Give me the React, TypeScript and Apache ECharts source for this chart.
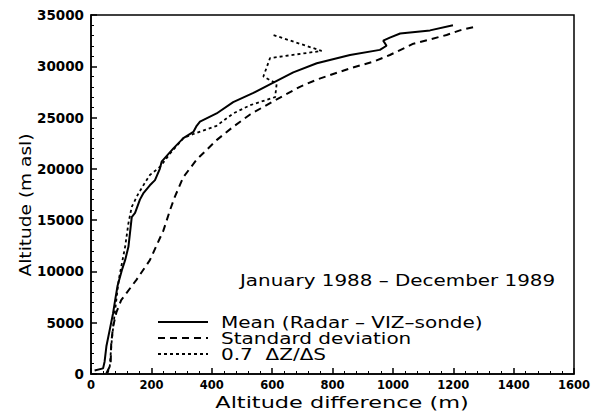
import React, { useEffect, useRef } from "react";
import * as echarts from "echarts";

const seriesNames = ["Mean (Radar – VIZ–sonde)", "Standard deviation", "0.7  ΔZ/ΔS"];

// [altitude difference (m), altitude (m asl)]
const meanCurve: number[][] = [
  [12, 350], [40, 550], [45, 1200], [51, 2700], [62, 4300], [73, 5900], [80, 7200],
  [88, 8600], [102, 10100], [113, 11100], [124, 12400], [129, 13700], [135, 15300],
  [146, 15700], [162, 17000], [173, 17600], [195, 18400], [212, 18900], [228, 20000],
  [234, 20700], [273, 22000], [306, 23000], [339, 23600], [350, 24200], [361, 24600],
  [416, 25400], [471, 26500], [538, 27400], [604, 28400], [670, 29400], [748, 30300],
  [858, 31100], [957, 31600], [979, 32000], [968, 32500], [990, 32800], [1024, 33200],
  [1123, 33500], [1199, 34000],
];

const stdCurve: number[][] = [
  [51, 70], [65, 900], [67, 3000], [73, 4600], [84, 6000], [100, 7200], [151, 9200],
  [195, 11100], [240, 14000], [262, 16000], [278, 17300], [306, 19200], [350, 20900],
  [416, 22800], [471, 24100], [527, 25300], [604, 26600], [692, 28000], [748, 28700],
  [858, 29800], [935, 30450], [990, 31100], [1068, 32200], [1178, 33050], [1222, 33500],
  [1278, 33900],
];

const gradientCurve: number[][] = [
  [55, 100], [62, 700], [68, 3000], [75, 5000], [85, 7500], [92, 9200], [113, 12400],
  [124, 14700], [135, 16300], [157, 17600], [184, 18900], [195, 19400], [229, 20200],
  [262, 21500], [306, 23000], [339, 23400], [416, 24200], [471, 25400], [527, 26200],
  [610, 27000], [615, 28300], [571, 29000], [593, 30800], [764, 31500], [604, 33050],
];

const xTicks = { min: 0, max: 1600, interval: 200 };
const yTicks = { min: 0, max: 35000, interval: 5000 };

const periodLabel = "January 1988 – December 1989";
const xTitle = "Altitude difference (m)";
const yTitle = "Altitude (m asl)";

const dashSolid: number[] | null = null;
const dashStd = [7, 5];
const dashGrad = [3, 3];

export default function App() {
  const ref = useRef<HTMLDivElement>(null);
  useEffect(() => {
    if (!ref.current) return;
    const chart = echarts.init(ref.current, null, { renderer: "svg" });
    const font = "DejaVu Sans";
    const axisCommon = {
      axisLine: { show: true, lineStyle: { color: "#000", width: 1.5 } },
      axisTick: { show: true, inside: true, length: 6, lineStyle: { color: "#000", width: 1.5 } },
      minorTick: { show: true, splitNumber: 5, length: 3, lineStyle: { color: "#000", width: 1 } },
      splitLine: { show: false },
    };
    const dashes = [dashSolid, dashStd, dashGrad];
    const widths = [2, 2, 1.8];
    const legendRows = [322, 338, 354];
    const legendGraphics: any[] = [];
    seriesNames.forEach((name, i) => {
      legendGraphics.push({
        type: "line",
        shape: { x1: 158, y1: legendRows[i], x2: 208, y2: legendRows[i] },
        style: { stroke: "#000", lineWidth: widths[i], lineDash: dashes[i] || undefined },
      });
      legendGraphics.push({
        type: "text",
        x: 221,
        y: legendRows[i],
        scaleX: 1.25,
        style: { text: name, fill: "#000", font: `16px "${font}"`, verticalAlign: "middle" },
      });
    });
    chart.setOption({
      animation: false,
      backgroundColor: "#fff",
      textStyle: { fontFamily: font, color: "#000" },
      grid: {
        left: 91, right: 22, top: 15, bottom: 38,
        show: true, borderColor: "#000", borderWidth: 1.5, backgroundColor: "transparent",
      },
      xAxis: {
        type: "value",
        ...xTicks,
        ...axisCommon,
        axisLabel: {
          color: "#000", fontFamily: font, fontWeight: "bold", fontSize: 11.5, margin: 5,
          formatter: (v: number) => String(v),
        },
      },
      yAxis: {
        type: "value",
        ...yTicks,
        ...axisCommon,
        axisLabel: {
          color: "#000", fontFamily: font, fontWeight: "bold", fontSize: 13.5, margin: 7,
          formatter: (v: number) => String(v),
        },
      },
      graphic: [
        {
          type: "text",
          x: 240,
          y: 280,
          scaleX: 1.245,
          style: { text: periodLabel, fill: "#000", font: `16px "${font}"`, verticalAlign: "middle" },
        },
        {
          type: "text",
          x: 342,
          y: 403,
          scaleX: 1.4,
          style: { text: xTitle, fill: "#000", font: `16px "${font}"`, align: "center", verticalAlign: "middle" },
        },
        {
          type: "text",
          x: 25,
          y: 205,
          rotation: Math.PI / 2,
          scaleX: 1.16,
          style: { text: yTitle, fill: "#000", font: `16px "${font}"`, align: "center", verticalAlign: "middle" },
        },
        ...legendGraphics,
      ],
      series: [
        {
          name: seriesNames[0],
          type: "line",
          data: meanCurve,
          symbol: "none",
          lineStyle: { color: "#000", width: widths[0], type: "solid" },
          itemStyle: { color: "#000" },
        },
        {
          name: seriesNames[1],
          type: "line",
          data: stdCurve,
          symbol: "none",
          lineStyle: { color: "#000", width: widths[1], type: dashStd },
          itemStyle: { color: "#000" },
        },
        {
          name: seriesNames[2],
          type: "line",
          data: gradientCurve,
          symbol: "none",
          lineStyle: { color: "#000", width: widths[2], type: dashGrad },
          itemStyle: { color: "#000" },
        },
      ],
    });
    return () => chart.dispose();
  }, []);
  return <div ref={ref} style={{ width: 596, height: 412, position: "absolute", left: 0, top: 0 }} />;
}
